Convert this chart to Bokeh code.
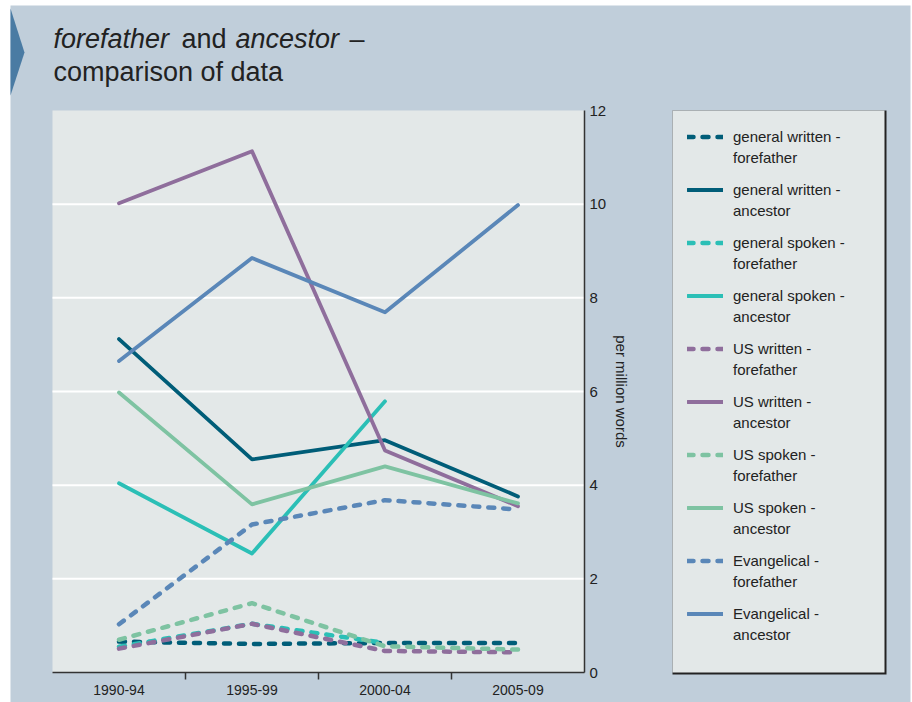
from bokeh.plotting import figure
from bokeh.models import (Range1d, FixedTicker, Legend, LegendItem, Label,
                          BoxAnnotation, PolyAnnotation, LinearAxis)
from bokeh.embed import file_html
from bokeh.resources import INLINE

# ---- data ----
periods = ["1990-94", "1995-99", "2000-04", "2005-09"]
gw_fore = [0.66, 0.61, 0.63, 0.63]
gw_anc = [7.12, 4.55, 4.96, 3.76]
gs_fore = [0.55, 1.04, 0.63]
gs_anc = [4.04, 2.54, 5.79]
usw_fore = [0.51, 1.04, 0.46, 0.43]
usw_anc = [10.02, 11.13, 4.74, 3.55]
uss_fore = [0.70, 1.48, 0.56, 0.49]
uss_anc = [5.98, 3.59, 4.40, 3.61]
ev_fore = [1.03, 3.16, 3.68, 3.48]
ev_anc = [6.65, 8.85, 7.69, 9.98]
y_ticks = [0, 2, 4, 6, 8, 10, 12]
grid_vals = [2, 4, 6, 8, 10]

# (legend line 1, legend line 2, values, colour, dashed)
series = [
    ("general written -", "forefather", gw_fore, "#005D78", True),
    ("general written -", "ancestor", gw_anc, "#005D78", False),
    ("general spoken -", "forefather", gs_fore, "#2BBFB6", True),
    ("general spoken -", "ancestor", gs_anc, "#2BBFB6", False),
    ("US written -", "forefather", usw_fore, "#8F6E9C", True),
    ("US written -", "ancestor", usw_anc, "#8F6E9C", False),
    ("US spoken -", "forefather", uss_fore, "#7EC3A2", True),
    ("US spoken -", "ancestor", uss_anc, "#7EC3A2", False),
    ("Evangelical -", "forefather", ev_fore, "#5A87B8", True),
    ("Evangelical -", "ancestor", ev_anc, "#5A87B8", False),
]

PAGE_BG = "#C0CEDA"
PLOT_BG = "#E3E8E8"
FONT = "Liberation Sans"
TXT = "#222222"

# ---- geometry (canvas px, canvas = page) ----
W, H = 912, 702
PL, PR, PT, PB = 52, 584, 110, 672          # plot area
XMIN, XMAX, YMIN, YMAX = -0.5, 3.5, 0.0, 12.0
kx = (PR - PL) / (XMAX - XMIN)
ky = (PB - PT) / (YMAX - YMIN)


def xd(cx):
    return XMIN + (cx - PL) / kx


def yd(cy):
    return YMIN + (PB - cy) / ky


p = figure(width=W, height=H, title=None,
           x_range=Range1d(xd(0), xd(W)), y_range=Range1d(yd(H), yd(0)),
           x_axis_type=None, y_axis_type=None,
           output_backend="svg", toolbar_location=None,
           min_border=0, min_border_left=0, min_border_right=0,
           min_border_top=0, min_border_bottom=0,
           background_fill_color="white", border_fill_color="white",
           outline_line_color=None)

# page panel
p.add_layout(BoxAnnotation(left=xd(10), right=xd(910), bottom=yd(H), top=yd(5),
                           fill_color=PAGE_BG, fill_alpha=1, line_color=None,
                           level="underlay"))
# plot area background
p.add_layout(BoxAnnotation(left=XMIN, right=XMAX, bottom=YMIN, top=YMAX,
                           fill_color=PLOT_BG, fill_alpha=1, line_color=None,
                           level="underlay"))
# legend panel background with dark right/bottom edge
p.add_layout(BoxAnnotation(left=xd(672), right=xd(886), bottom=yd(674), top=yd(110),
                           fill_color="#222222", fill_alpha=1, line_color=None,
                           level="underlay"))
p.add_layout(BoxAnnotation(left=xd(672), right=xd(884), bottom=yd(672), top=yd(110),
                           fill_color=PLOT_BG, fill_alpha=1, line_color=None,
                           level="underlay"))

# horizontal gridlines
p.segment(x0=[XMIN] * len(grid_vals), x1=[XMAX] * len(grid_vals),
          y0=grid_vals, y1=grid_vals, line_color="white", line_width=2)

# x axis
xa = LinearAxis(fixed_location=YMIN, bounds=(XMIN, XMAX),
                ticker=FixedTicker(ticks=[0, 1, 2, 3], minor_ticks=[0.5, 1.5, 2.5]))
xa.major_label_overrides = {i: lab for i, lab in enumerate(periods)}
xa.major_tick_out = 0
xa.major_tick_in = 0
xa.minor_tick_out = 7
xa.minor_tick_in = 0
xa.minor_tick_line_color = "#333333"
xa.minor_tick_line_width = 1.5
xa.axis_line_color = "#333333"
xa.axis_line_width = 1.5
xa.major_label_text_font = FONT
xa.major_label_text_font_size = "14px"
xa.major_label_text_color = TXT
xa.major_label_standoff = 5
p.add_layout(xa, "below")

# y axis (right)
ya = LinearAxis(fixed_location=XMAX, bounds=(YMIN, YMAX),
                ticker=FixedTicker(ticks=y_ticks))
ya.major_tick_out = 0
ya.major_tick_in = 0
ya.minor_tick_out = 0
ya.minor_tick_in = 0
ya.axis_line_color = "#333333"
ya.axis_line_width = 1.5
ya.major_label_text_font = FONT
ya.major_label_text_font_size = "15px"
ya.major_label_text_color = TXT
ya.major_label_standoff = 5
ya.axis_label = "per million words"
ya.axis_label_text_font = FONT
ya.axis_label_text_font_size = "15px"
ya.axis_label_text_font_style = "normal"
ya.axis_label_text_color = TXT
ya.axis_label_standoff = 4
p.add_layout(ya, "right")

items_a, items_b = [], []
for line1, line2, vals, color, dashed in series:
    xs = list(range(len(vals)))
    if dashed:
        r = p.line(xs, vals, line_color=color, line_width=4.5,
                   line_dash="6 9", line_cap="round", line_join="round")
    else:
        r = p.line(xs, vals, line_color=color, line_width=3.8,
                   line_cap="round", line_join="round")
    items_a.append(LegendItem(label=line1, renderers=[r]))
    blank = p.line(x=[], y=[], line_alpha=0)
    items_b.append(LegendItem(label=line2, renderers=[blank]))

leg_kw = dict(orientation="vertical", background_fill_alpha=0,
              border_line_color=None, label_text_font=FONT,
              label_text_font_size="15px", label_text_color=TXT,
              glyph_width=36, glyph_height=21, label_height=21,
              label_standoff=10, padding=15, margin=0, spacing=32,
              label_width=136)
p.add_layout(Legend(items=items_a, location=(687, 78), **leg_kw))
p.add_layout(Legend(items=items_b, location=(687, 57), **leg_kw))

# title decoration
p.add_layout(PolyAnnotation(xs=[10, 24, 10], ys=[694, 650, 607],
                            xs_units="screen", ys_units="screen",
                            fill_color="#4A7BA3", fill_alpha=1, line_color=None))

title_parts = [
    ("forefather", 53, 664, "italic"),
    ("and", 181, 664, "normal"),
    ("ancestor", 235, 664, "italic"),
    ("\u2013", 349, 664, "normal"),
    ("comparison of data", 53, 631, "normal"),
]
for txt, x, y, style in title_parts:
    p.add_layout(Label(x=x, y=y, x_units="screen", y_units="screen", text=txt,
                       text_font=FONT, text_font_size="27px",
                       text_font_style=style, text_color=TXT,
                       text_baseline="alphabetic", text_align="left"))

open("out.html", "w").write(file_html(p, INLINE))
